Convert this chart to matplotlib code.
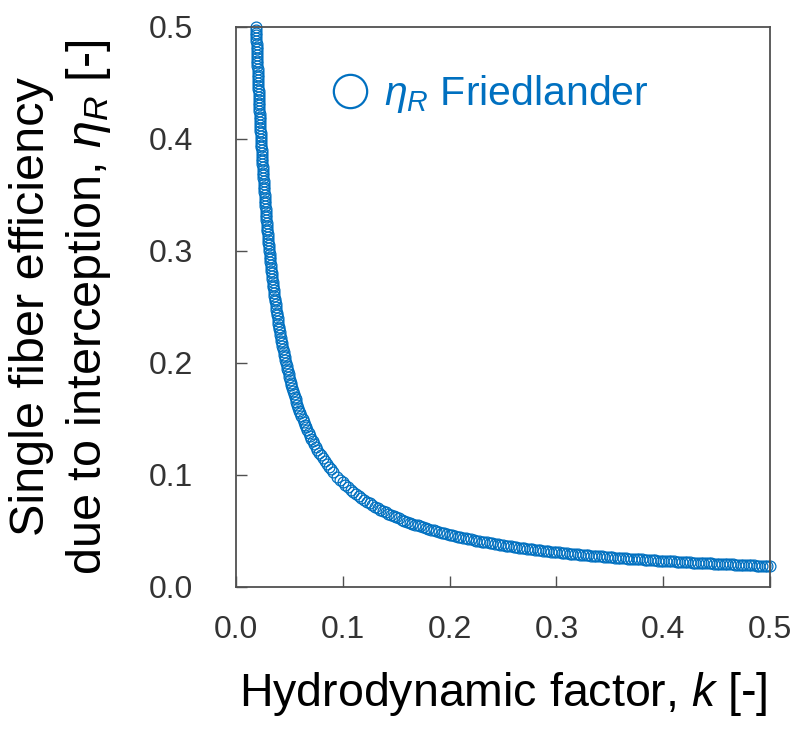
import matplotlib
matplotlib.use("Agg")
import matplotlib.pyplot as plt
from matplotlib.lines import Line2D

plt.rcParams['font.family'] = ['Liberation Sans', 'DejaVu Sans']
plt.rcParams['mathtext.fontset'] = 'custom'
plt.rcParams['mathtext.rm'] = 'Liberation Sans'
plt.rcParams['mathtext.it'] = 'Liberation Sans:italic'

# Steep branch (k vs eta_R)
k_steep = [0.01868, 0.01887, 0.01906, 0.01926, 0.01946, 0.01966, 0.01987, 0.02009,
           0.02030, 0.02053, 0.02076, 0.02099, 0.02123, 0.02147, 0.02172, 0.02198,
           0.02224, 0.02251, 0.02278, 0.02306, 0.02335, 0.02365, 0.02395, 0.02426,
           0.02458, 0.02491, 0.02524, 0.02559, 0.02594, 0.02631, 0.02669, 0.02707,
           0.02747, 0.02788, 0.02830, 0.02874, 0.02919, 0.02965, 0.03013, 0.03062,
           0.03113, 0.03166, 0.03221, 0.03277, 0.03336, 0.03396, 0.03459, 0.03525,
           0.03592, 0.03663, 0.03736, 0.03812, 0.03892, 0.03974, 0.04061, 0.04151,
           0.04245, 0.04344, 0.04448, 0.04556, 0.04670, 0.04790, 0.04916, 0.05049,
           0.05189, 0.05337, 0.05494, 0.05661, 0.05838, 0.06026, 0.06227, 0.06441,
           0.06671, 0.06919, 0.07185, 0.07472, 0.07783, 0.08122, 0.08491, 0.08895]
eta_steep = [0.500, 0.495, 0.490, 0.485, 0.480, 0.475, 0.470, 0.465,
             0.460, 0.455, 0.450, 0.445, 0.440, 0.435, 0.430, 0.425,
             0.420, 0.415, 0.410, 0.405, 0.400, 0.395, 0.390, 0.385,
             0.380, 0.375, 0.370, 0.365, 0.360, 0.355, 0.350, 0.345,
             0.340, 0.335, 0.330, 0.325, 0.320, 0.315, 0.310, 0.305,
             0.300, 0.295, 0.290, 0.285, 0.280, 0.275, 0.270, 0.265,
             0.260, 0.255, 0.250, 0.245, 0.240, 0.235, 0.230, 0.225,
             0.220, 0.215, 0.210, 0.205, 0.200, 0.195, 0.190, 0.185,
             0.180, 0.175, 0.170, 0.165, 0.160, 0.155, 0.150, 0.145,
             0.140, 0.135, 0.130, 0.125, 0.120, 0.115, 0.110, 0.105]

# Steep branch, intermediate points
k_steep_mid = [0.01877, 0.01896, 0.01916, 0.01936, 0.01956, 0.01977, 0.01998, 0.02019,
               0.02042, 0.02064, 0.02087, 0.02111, 0.02135, 0.02160, 0.02185, 0.02211,
               0.02237, 0.02264, 0.02292, 0.02320, 0.02350, 0.02380, 0.02410, 0.02442,
               0.02474, 0.02507, 0.02541, 0.02577, 0.02613, 0.02650, 0.02688, 0.02727,
               0.02767, 0.02809, 0.02852, 0.02896, 0.02942, 0.02989, 0.03037, 0.03088,
               0.03139, 0.03193, 0.03249, 0.03306, 0.03366, 0.03428, 0.03492, 0.03558,
               0.03627, 0.03699, 0.03774, 0.03852, 0.03933, 0.04017, 0.04105, 0.04198,
               0.04294, 0.04395, 0.04501, 0.04612, 0.04729, 0.04852, 0.04981, 0.05118,
               0.05262, 0.05414, 0.05576, 0.05748, 0.05930, 0.06125, 0.06332, 0.06554,
               0.06793, 0.07049, 0.07325, 0.07624, 0.07949, 0.08302, 0.08688, 0.09112]
eta_steep_mid = [0.4975, 0.4925, 0.4875, 0.4825, 0.4775, 0.4725, 0.4675, 0.4625,
                 0.4575, 0.4525, 0.4475, 0.4425, 0.4375, 0.4325, 0.4275, 0.4225,
                 0.4175, 0.4125, 0.4075, 0.4025, 0.3975, 0.3925, 0.3875, 0.3825,
                 0.3775, 0.3725, 0.3675, 0.3625, 0.3575, 0.3525, 0.3475, 0.3425,
                 0.3375, 0.3325, 0.3275, 0.3225, 0.3175, 0.3125, 0.3075, 0.3025,
                 0.2975, 0.2925, 0.2875, 0.2825, 0.2775, 0.2725, 0.2675, 0.2625,
                 0.2575, 0.2525, 0.2475, 0.2425, 0.2375, 0.2325, 0.2275, 0.2225,
                 0.2175, 0.2125, 0.2075, 0.2025, 0.1975, 0.1925, 0.1875, 0.1825,
                 0.1775, 0.1725, 0.1675, 0.1625, 0.1575, 0.1525, 0.1475, 0.1425,
                 0.1375, 0.1325, 0.1275, 0.1225, 0.1175, 0.1125, 0.1075, 0.1025]

# Flat branch
k_flat = [0.095, 0.100, 0.105, 0.110, 0.115, 0.120, 0.125, 0.130, 0.135, 0.140,
          0.145, 0.150, 0.155, 0.160, 0.165, 0.170, 0.175, 0.180, 0.185, 0.190,
          0.195, 0.200, 0.205, 0.210, 0.215, 0.220, 0.225, 0.230, 0.235, 0.240,
          0.245, 0.250, 0.255, 0.260, 0.265, 0.270, 0.275, 0.280, 0.285, 0.290,
          0.295, 0.300, 0.305, 0.310, 0.315, 0.320, 0.325, 0.330, 0.335, 0.340,
          0.345, 0.350, 0.355, 0.360, 0.365, 0.370, 0.375, 0.380, 0.385, 0.390,
          0.395, 0.400, 0.405, 0.410, 0.415, 0.420, 0.425, 0.430, 0.435, 0.440,
          0.445, 0.450, 0.455, 0.460, 0.465, 0.470, 0.475, 0.480, 0.485, 0.490,
          0.495, 0.500]
eta_flat = [0.09832, 0.09340, 0.08895, 0.08491, 0.08122, 0.07783, 0.07472, 0.07185,
            0.06919, 0.06671, 0.06441, 0.06227, 0.06026, 0.05838, 0.05661, 0.05494,
            0.05337, 0.05189, 0.05049, 0.04916, 0.04790, 0.04670, 0.04556, 0.04448,
            0.04344, 0.04245, 0.04151, 0.04061, 0.03974, 0.03892, 0.03812, 0.03736,
            0.03663, 0.03592, 0.03525, 0.03459, 0.03396, 0.03336, 0.03277, 0.03221,
            0.03166, 0.03113, 0.03062, 0.03013, 0.02965, 0.02919, 0.02874, 0.02830,
            0.02788, 0.02747, 0.02707, 0.02669, 0.02631, 0.02594, 0.02559, 0.02524,
            0.02491, 0.02458, 0.02426, 0.02395, 0.02365, 0.02335, 0.02306, 0.02278,
            0.02251, 0.02224, 0.02198, 0.02172, 0.02147, 0.02123, 0.02099, 0.02076,
            0.02053, 0.02030, 0.02009, 0.01987, 0.01966, 0.01946, 0.01926, 0.01906,
            0.01887, 0.01868]

# Flat branch, intermediate points
k_flat_mid = [0.0975, 0.1025, 0.1075, 0.1125, 0.1175, 0.1225, 0.1275, 0.1325, 0.1375,
              0.1425, 0.1475, 0.1525, 0.1575, 0.1625, 0.1675, 0.1725, 0.1775, 0.1825,
              0.1875, 0.1925, 0.1975, 0.2025, 0.2075, 0.2125, 0.2175, 0.2225, 0.2275,
              0.2325, 0.2375, 0.2425, 0.2475, 0.2525, 0.2575, 0.2625, 0.2675, 0.2725,
              0.2775, 0.2825, 0.2875, 0.2925, 0.2975, 0.3025, 0.3075, 0.3125, 0.3175,
              0.3225, 0.3275, 0.3325, 0.3375, 0.3425, 0.3475, 0.3525, 0.3575, 0.3625,
              0.3675, 0.3725, 0.3775, 0.3825, 0.3875, 0.3925, 0.3975, 0.4025, 0.4075,
              0.4125, 0.4175, 0.4225, 0.4275, 0.4325, 0.4375, 0.4425, 0.4475, 0.4525,
              0.4575, 0.4625, 0.4675, 0.4725, 0.4775, 0.4825, 0.4875, 0.4925, 0.4975]
eta_flat_mid = [0.09579, 0.09112, 0.08688, 0.08302, 0.07949, 0.07624, 0.07325, 0.07049,
                0.06793, 0.06554, 0.06332, 0.06125, 0.05930, 0.05748, 0.05576, 0.05414,
                0.05262, 0.05118, 0.04981, 0.04852, 0.04729, 0.04612, 0.04501, 0.04395,
                0.04294, 0.04198, 0.04105, 0.04017, 0.03933, 0.03852, 0.03774, 0.03699,
                0.03627, 0.03558, 0.03492, 0.03428, 0.03366, 0.03306, 0.03249, 0.03193,
                0.03139, 0.03088, 0.03037, 0.02989, 0.02942, 0.02896, 0.02852, 0.02809,
                0.02767, 0.02727, 0.02688, 0.02650, 0.02613, 0.02577, 0.02541, 0.02507,
                0.02474, 0.02442, 0.02410, 0.02380, 0.02350, 0.02320, 0.02292, 0.02264,
                0.02237, 0.02211, 0.02185, 0.02160, 0.02135, 0.02111, 0.02087, 0.02064,
                0.02042, 0.02019, 0.01998, 0.01977, 0.01956, 0.01936, 0.01916, 0.01896,
                0.01877]

ticks = [0.0, 0.1, 0.2, 0.3, 0.4, 0.5]
tick_labels = ["0.0", "0.1", "0.2", "0.3", "0.4", "0.5"]

blue = '#0070C0'
spine_c = '#505050'

fig = plt.figure(figsize=(7.95, 7.29), dpi=100)
ax = fig.add_axes([236/795, 1 - 587/729, (770 - 236)/795, (587 - 27)/729])

k_all = k_steep + k_steep_mid + k_flat + k_flat_mid
eta_all = eta_steep + eta_steep_mid + eta_flat + eta_flat_mid
ax.plot(k_all, eta_all, linestyle='none', marker='o',
        markersize=7.8, markerfacecolor='none', markeredgecolor=blue,
        markeredgewidth=0.9, clip_on=False)

ax.set_xlim(0, 0.5)
ax.set_ylim(0, 0.5)
ax.set_xticks(ticks)
ax.set_xticklabels(tick_labels)
ax.set_yticks(ticks)
ax.set_yticklabels(tick_labels)

for s in ax.spines.values():
    s.set_color(spine_c)
    s.set_linewidth(1.3)

ax.tick_params(axis='both', direction='in', length=8, width=1.0, color=spine_c,
               labelsize=23, labelcolor='#333333')
ax.tick_params(axis='x', pad=20)
ax.tick_params(axis='y', pad=31)
ax.tick_params(top=False, right=False)

ax.set_xlabel(r"Hydrodynamic factor, $\mathit{k}$ [-]", fontsize=33.5, color='black')
ax.set_ylabel("Single fiber efficiency\n" + r"due to interception, $\eta_R$ [-]",
              fontsize=35, color='black', linespacing=1.28)
ax.xaxis.set_label_coords(0.5, -0.148)
ax.yaxis.set_label_coords(-0.230, 0.5)

handle = Line2D([], [], linestyle='none', marker='o', markersize=24,
                markerfacecolor='none', markeredgecolor=blue, markeredgewidth=1.6)
leg = ax.legend([handle], [r"$\eta_R$ Friedlander"], loc='center left',
                bbox_to_anchor=(0.1805, 0.880), frameon=False, fontsize=29.5,
                handlelength=0.85, handletextpad=0.42, borderpad=0, borderaxespad=0,
                labelcolor=blue)

fig.savefig("out.png", dpi=100)
